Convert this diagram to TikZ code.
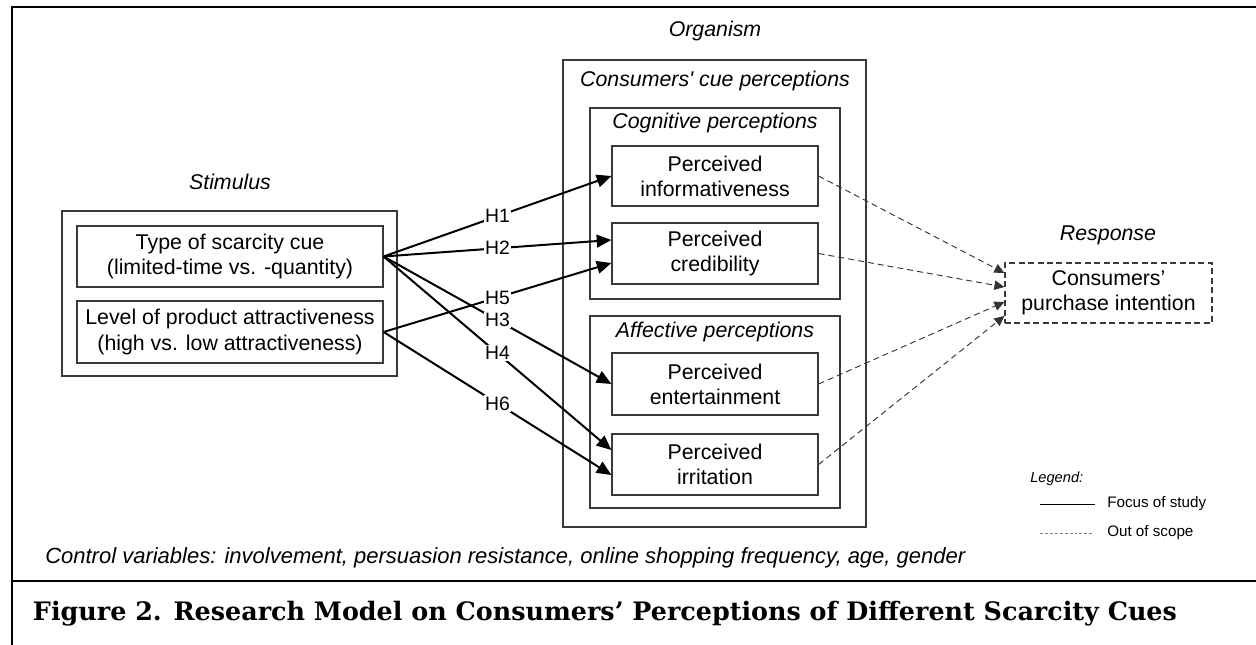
\documentclass[tikz,border=0pt]{standalone}
\usepackage{fontspec}
\setmainfont{Liberation Sans}
\newfontfamily\rawsans{Liberation Sans}[Ligatures=TeXOff]
\newfontfamily\capfont{DejaVu Serif}
\usetikzlibrary{fit,calc,arrows.meta}
\definecolor{edge}{HTML}{3A3A3A}
\definecolor{dashgray}{HTML}{333333}
\begin{document}
\begin{tikzpicture}[x=0.75pt,y=-0.75pt,
  box/.style={draw=edge,line width=0.9pt,inner sep=0pt,fit={#1}},
  dbox/.style={draw=edge,line width=0.9pt,dash pattern=on 4.5pt off 2.6pt,inner sep=0pt,fit={#1}},
  txt/.style={font=\fontsize{16}{18.8}\selectfont,align=center,inner sep=0pt},
  head/.style={font=\fontsize{16}{19}\selectfont\itshape,anchor=base,inner sep=0pt},
  hypo/.style={line width=1.5pt,-{Triangle[length=11pt,width=9.5pt]}},
  hl/.style={fill=white,inner sep=1pt,font=\fontsize{14.5}{16}\selectfont},
  oos/.style={dashgray,line width=0.7pt,dash pattern=on 4.5pt off 3pt,-{Triangle[length=7.5pt,width=7pt]}},
  legtxt/.style={font=\fontsize{11.4}{13}\selectfont,anchor=west,inner sep=0pt}
]
\useasboundingbox (0,0) rectangle (1256,645);

% page frame and caption rule
\draw[line width=2.2pt,line join=miter] (12,645) -- (12,7) -- (1256,7);
\draw[line width=1.9pt] (12,581) -- (1256,581);

% stimulus
\node[head] (stimh) at (230,190) {Stimulus};
\node[box={(62,211)(397,376)}] (stim) {};
\node[box={(77,226)(383,287)}] (type) {};
\node[txt] (type-t) at (type.center) {Type of scarcity cue\\(limited-time vs. -quantity)};
\node[box={(77,301)(383,363)}] (level) {};
\node[txt] (level-t) at (level.center) {Level of product attractiveness\\(high vs. low attractiveness)};

% organism
\node[head] (orgh) at (715,37) {Organism};
\node[box={(563,60)(866,527)}] (org) {};
\node[head] (cueh) at (715,87) {Consumers{\rawsans\itshape '} cue perceptions};
\node[box={(590,108)(840,299)}] (cog) {};
\node[head] (cogh) at (715,129) {Cognitive perceptions};
\node[box={(612,146)(818,206)}] (inf) {};
\node[txt] (inf-t) at (inf.center) {Perceived\\informativeness};
\node[box={(612,223)(818,284)}] (cred) {};
\node[txt] (cred-t) at (cred.center) {Perceived\\credibility};
\node[box={(590,316)(840,508)}] (aff) {};
\node[head] (affh) at (715,337) {Affective perceptions};
\node[box={(612,353)(818,415)}] (ent) {};
\node[txt] (ent-t) at (ent.center) {Perceived\\entertainment};
\node[box={(612,434)(818,495)}] (irr) {};
\node[txt] (irr-t) at (irr.center) {Perceived\\irritation};

% response
\node[head] (resph) at (1108,241) {Response};
\node[dbox={(1005,263)(1212,323)}] (resp) {};
\node[txt] (resp-t) at (resp.center) {Consumers’\\purchase intention};

% hypothesised paths
\draw[hypo] (type.east) -- node[hl] (h1) {H1} (inf.west);
\draw[hypo] (type.east) -- node[hl] (h2) {H2} ($(cred.west)+(0,-13.5)$);
\draw[hypo] (level.east) -- node[hl] (h5) {H5} ($(cred.west)+(0,9.5)$);
\draw[hypo] (type.east) -- node[hl] (h3) {H3} (ent.west);
\draw[hypo] (type.east) -- node[hl] (h4) {H4} ($(irr.west)+(0,-14.5)$);
\draw[hypo] (level.east) -- node[hl] (h6) {H6} ($(irr.west)+(0,10.5)$);

% paths outside the scope
\draw[oos] (inf.east) -- ($(resp.west)+(0,-20)$);
\draw[oos] (cred.east) -- ($(resp.west)+(0,-6)$);
\draw[oos] (ent.east) -- ($(resp.west)+(0,9)$);
\draw[oos] (irr.east) -- ($(resp.west)+(0,23)$);

% legend
\node[font=\fontsize{11}{13}\selectfont\itshape,anchor=base west,inner sep=0pt] (legh) at (1030,482) {Legend:};
\coordinate (la1) at (1040,504);
\coordinate (la2) at (1095,504);
\coordinate (lb1) at (1040,533);
\coordinate (lb2) at (1094,533);
\draw[line width=0.75pt] (la1) -- (la2);
\draw[gray,line width=0.6pt,dash pattern=on 2.2pt off 1.5pt] (lb1) -- (lb2);
\node[legtxt] (leg1) at (1107,504) {Focus of study};
\node[legtxt] (leg2) at (1107,533) {Out of scope};

% control variables
\node[font=\fontsize{16.5}{19}\selectfont\itshape,anchor=base west,inner sep=0pt] (ctrl) at (45,563)
  {Control variables: involvement, persuasion resistance, online shopping frequency, age, gender};

% caption
\node[anchor=base,inner sep=0pt] (cap) at (605,620)
  {\resizebox{858pt}{!}{\capfont\bfseries Figure 2. Research Model on Consumers’ Perceptions of Different Scarcity Cues}};
\end{tikzpicture}
\end{document}
